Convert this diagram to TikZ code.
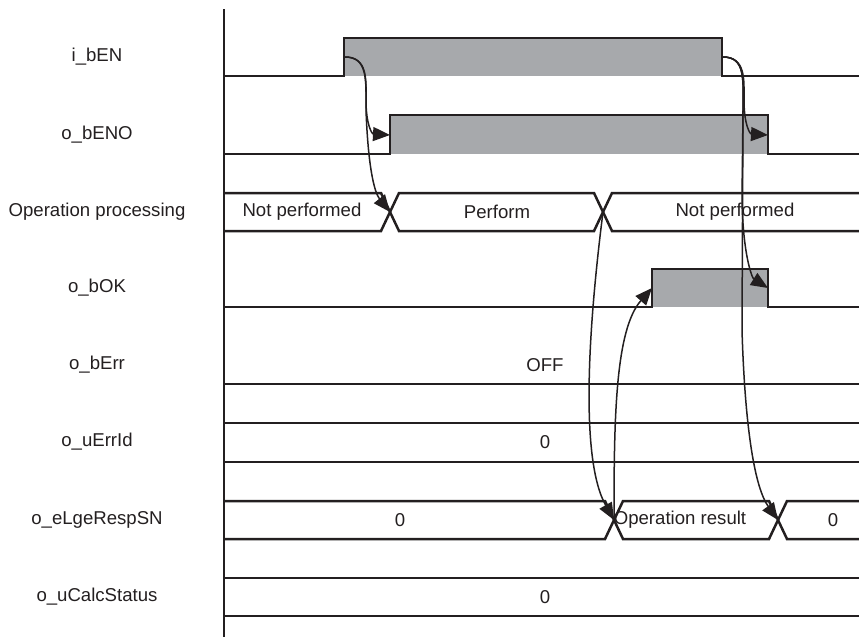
\documentclass[tikz,border=0pt]{standalone}
\usepackage{fontspec}
\setmainfont{Liberation Sans}
\usetikzlibrary{arrows.meta}
\definecolor{ink}{HTML}{231F20}
\definecolor{hig}{HTML}{A7A9AC}
\tikzset{
  sig/.style={line width=2.5pt, draw=ink, line join=miter},
  axisline/.style={line width=2.8pt, draw=ink},
  hi/.style={fill=hig},
  conn/.style={line width=1.5pt, draw=ink, -{Triangle[length=17pt,width=14pt]}},
  txt/.style={inner sep=0pt, text=ink, font=\fontsize{18.6}{22}\selectfont},
}
\begin{document}
\begin{tikzpicture}[x=1pt,y=-1pt]
\useasboundingbox (0,0) rectangle (859,637);
% row labels
\node[txt] (l1) at (97,57) {i\_bEN};
\node[txt] (l2) at (97,135) {o\_bENO};
\node[txt] (l3) at (97,212) {Operation processing};
\node[txt] (l4) at (97,288) {o\_bOK};
\node[txt] (l5) at (97,365) {o\_bErr};
\node[txt] (l6) at (97,442) {o\_uErrId};
\node[txt] (l7) at (97,520) {o\_eLgeRespSN};
\node[txt] (l8) at (97,597) {o\_uCalcStatus};
% axis
\coordinate (axT) at (224,9);
\coordinate (axB) at (224,637);
\draw[axisline] (axT) -- (axB);
% i_bEN
\fill[hi] (344,38) rectangle (722,76);
\draw[sig] (224,76) -- (344,76) -- (344,38) -- (722,38) -- (722,76) -- (859,76);
% o_bENO
\fill[hi] (390,115) rectangle (768,154);
\draw[sig] (224,154) -- (390,154) -- (390,115) -- (768,115) -- (768,154) -- (859,154);
% Operation processing
\draw[sig] (224,193) -- (381,193) -- (399,231) -- (594,231) -- (612,193) -- (859,193);
\draw[sig] (224,231) -- (381,231) -- (399,193) -- (594,193) -- (612,231) -- (859,231);
\node[txt] (op1) at (302,212) {Not performed};
\node[txt] (op2) at (497,212) {Perform};
\node[txt] (op3) at (735,212) {Not performed};
% o_bOK
\fill[hi] (652,269) rectangle (768,307);
\draw[sig] (224,307) -- (652,307) -- (652,269) -- (768,269) -- (768,307) -- (859,307);
% o_bErr
\draw[sig] (224,384) -- (859,384);
\node[txt] (err) at (545,365) {OFF};
% o_uErrId
\draw[sig] (224,423) -- (859,423);
\draw[sig] (224,462) -- (859,462);
\node[txt] (eid) at (545,442) {0};
% o_eLgeRespSN
\draw[sig] (224,501) -- (605,501) -- (623,539) -- (769,539) -- (787,501) -- (859,501);
\draw[sig] (224,539) -- (605,539) -- (623,501) -- (769,501) -- (787,539) -- (859,539);
\node[txt] (rs1) at (400,520) {0};
\node[txt] (rs2) at (680,520) {Operation result};
\node[txt] (rs3) at (833,520) {0};
% o_uCalcStatus
\draw[sig] (224,578) -- (859,578);
\draw[sig] (224,616) -- (859,616);
\node[txt] (cs) at (545,597) {0};
% event points
\coordinate (enR) at (345,57);
\coordinate (enF) at (723,57);
\coordinate (enoR) at (390,135);
\coordinate (enoF) at (768,135);
\coordinate (opX1) at (390,212);
\coordinate (opX2) at (603,212);
\coordinate (okR) at (652,288);
\coordinate (okF) at (768,288);
\coordinate (rsX1) at (614,520);
\coordinate (rsX2) at (778,520);
% connectors
\draw[conn] (enR) .. controls (368,57) and (366,80) .. (366,100) .. controls (366,125) and (372,134) .. (enoR);
\draw[conn] (enR) .. controls (368,57) and (366,80) .. (366,110) .. controls (368,165) and (374,192) .. (opX1);
\draw[conn] (enF) .. controls (746,57) and (744,80) .. (744,100) .. controls (744,125) and (750,134) .. (enoF);
\draw[conn] (enF) .. controls (746,57) and (743,80) .. (743,110) -- (742,200) .. controls (743,255) and (752,278) .. (okF);
\draw[conn] (enF) .. controls (746,57) and (743,80) .. (743,110) -- (742,330) .. controls (745,430) and (755,488) .. (rsX2);
\draw[conn] (opX2) .. controls (588,330) and (580,460) .. (rsX1);
\draw[conn] (rsX1) .. controls (614,420) and (615,330) .. (okR);
\end{tikzpicture}
\end{document}
